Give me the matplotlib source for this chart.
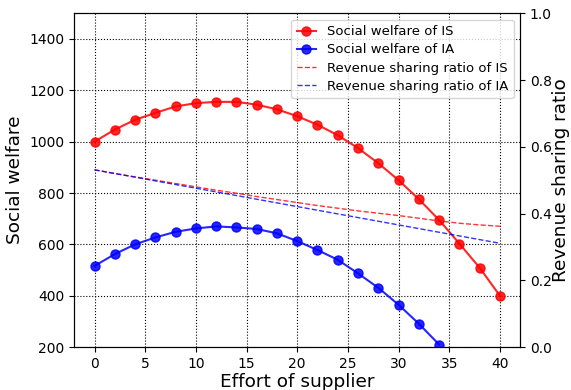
import matplotlib
matplotlib.use("Agg")
import matplotlib.pyplot as plt

# effort levels
effort = [0, 2, 4, 6, 8, 10, 12, 14, 16, 18, 20, 22, 24, 26, 28, 30, 32, 34, 36, 38, 40]

# social welfare (left axis)
sw_is = [1000, 1047, 1085, 1112, 1137, 1150, 1155, 1155, 1144, 1126, 1099,
         1066, 1025, 975, 916, 850, 776, 695, 603, 509, 400]
effort_ia = [0, 2, 4, 6, 8, 10, 12, 14, 16, 18, 20, 22, 24, 26, 28, 30, 32, 34]
sw_ia = [516, 562, 600, 627, 649, 662, 670, 666, 660, 643, 613,
         578, 540, 487, 431, 365, 291, 210]

# revenue sharing ratio (right axis)
rs_is = [0.531, 0.520, 0.510, 0.500, 0.490, 0.480, 0.470, 0.461, 0.451, 0.442, 0.433,
         0.424, 0.416, 0.408, 0.401, 0.394, 0.386, 0.378, 0.371, 0.366, 0.362]
rs_ia = [0.531, 0.520, 0.509, 0.498, 0.487, 0.476, 0.465, 0.454, 0.443, 0.432, 0.421,
         0.410, 0.399, 0.388, 0.377, 0.366, 0.355, 0.344, 0.333, 0.322, 0.311]

fig, ax1 = plt.subplots(figsize=(5.71, 3.9), dpi=100)
fig.subplots_adjust(left=0.130, right=0.911, top=0.966, bottom=0.110)

l1, = ax1.plot(effort, sw_is, "o-", color="red", markersize=6.5, alpha=0.85,
               label="Social welfare of IS")
l2, = ax1.plot(effort_ia, sw_ia, "o-", color="blue", markersize=6.5, alpha=0.85,
               label="Social welfare of IA")
ax1.set_ylim(200, 1500)
ax1.set_xlim(-2, 42)
ax1.set_xticks([0, 5, 10, 15, 20, 25, 30, 35, 40])
ax1.set_yticks([200, 400, 600, 800, 1000, 1200, 1400])
ax1.set_xlabel("Effort of supplier", fontsize=13.3, labelpad=1.5)
ax1.set_ylabel("Social welfare", fontsize=13.3)
ax1.grid(True, linestyle=":", color="black", linewidth=0.8)

ax2 = ax1.twinx()
l3, = ax2.plot(effort, rs_is, "--", color="red", linewidth=1, alpha=0.8,
               label="Revenue sharing ratio of IS")
l4, = ax2.plot(effort, rs_ia, "--", color="blue", linewidth=1, alpha=0.8,
               label="Revenue sharing ratio of IA")
ax2.set_ylim(0, 1)
ax2.set_ylabel("Revenue sharing ratio", fontsize=13.3, labelpad=0)

ax2.legend(handles=[l1, l2, l3, l4], loc="upper right", fontsize=9.5,
           borderaxespad=0.5, handlelength=1.5, labelspacing=0.4)

fig.savefig("out.png", dpi=100)
